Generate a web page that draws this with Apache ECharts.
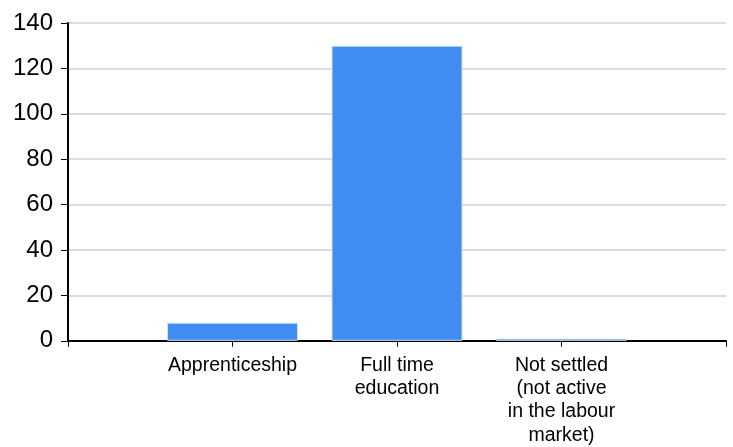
<!DOCTYPE html>
<html><head><meta charset="utf-8">
<script src="https://cdn.jsdelivr.net/npm/echarts@6/dist/echarts.min.js"></script>
<style>html,body{margin:0;padding:0;background:#fff}#c{width:733px;height:447px}</style>
</head><body><div id="c"></div>
<script>
const categories = ['', 'Apprenticeship', 'Full time\neducation', 'Not settled\n(not active\nin the labour\nmarket)', ''];
const values = ['-', 8, 130, 1, '-'];
const yTicks = [0, 20, 40, 60, 80, 100, 120, 140];

const chart = echarts.init(document.getElementById('c'));
chart.setOption({
  animation: false,
  grid: {left: 68, right: 7, top: 23, bottom: 103, containLabel: false},
  xAxis: {
    type: 'category', data: categories, boundaryGap: false,
    axisLine: {lineStyle: {color: '#000', width: 2}},
    axisTick: {show: true, length: 6, lineStyle: {color: '#000', width: 1}},
    axisLabel: {color: '#000', fontFamily: 'Liberation Sans', fontSize: 19.5, lineHeight: 23.3, margin: 13, interval: 0}
  },
  yAxis: {
    type: 'value', min: yTicks[0], max: yTicks[yTicks.length-1], interval: 20,
    axisLine: {show: true, lineStyle: {color: '#000', width: 2}},
    axisTick: {show: true, length: 7, lineStyle: {color: '#000', width: 1}},
    splitLine: {lineStyle: {color: '#dcdcdc', width: 2}},
    axisLabel: {color: '#000', fontFamily: 'Liberation Sans', fontSize: 24, margin: 15}
  },
  series: [{
    type: 'bar', data: values, barWidth: 131,
    itemStyle: {color: '#418cf0', borderColor: '#cfe2fb', borderWidth: 1}
  }]
});
</script></body></html>
